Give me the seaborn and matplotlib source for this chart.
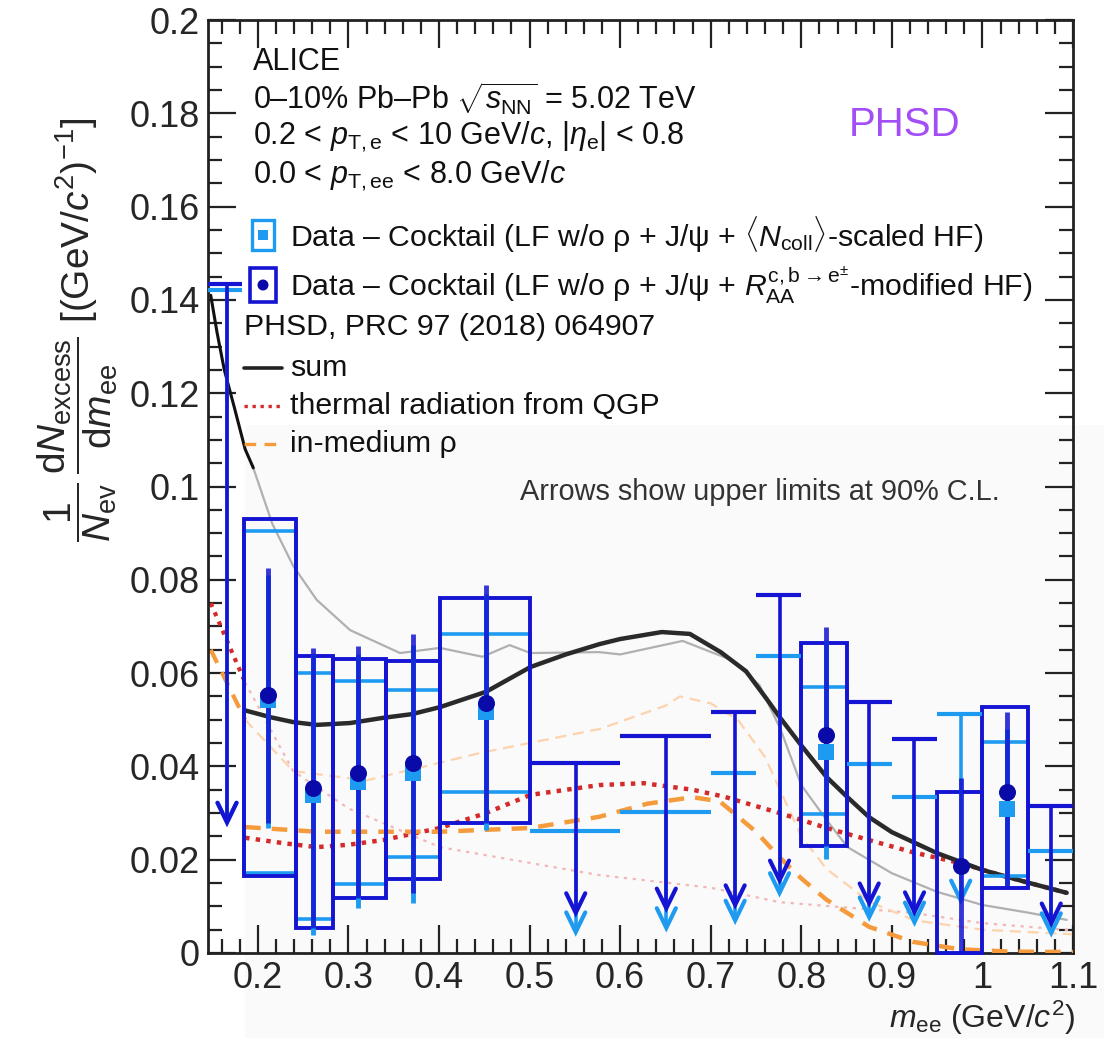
import numpy as np
import pandas as pd
import matplotlib
matplotlib.use("Agg")
import matplotlib.pyplot as plt
import seaborn as sns
from matplotlib.patches import Rectangle, Ellipse
from matplotlib import font_manager as fm
from matplotlib.ticker import MultipleLocator, FixedLocator

# ---------------- data ----------------
# measured bins (x position, bin edges)
meas_x = [0.211, 0.261, 0.311, 0.371, 0.452, 0.827, 0.976, 1.027]
meas_lo = [0.185, 0.242, 0.283, 0.342, 0.401, 0.800, 0.950, 1.000]
meas_hi = [0.242, 0.283, 0.342, 0.401, 0.501, 0.850, 1.000, 1.050]

# R_AA-modified HF (dark blue)
raa_y = [0.0553, 0.0354, 0.0386, 0.0407, 0.0536, 0.0467, 0.0187, 0.0345]
raa_stat_lo = [0.0279, 0.0054, 0.0118, 0.0129, 0.0279, 0.0229, 0.0, 0.0140]
raa_stat_hi = [0.0825, 0.0654, 0.0658, 0.0684, 0.0789, 0.0699, 0.0375, 0.0517]
raa_sys_lo = [0.0165, 0.0054, 0.0118, 0.0159, 0.0279, 0.0229, 0.0, 0.0139]
raa_sys_hi = [0.0930, 0.0637, 0.0630, 0.0626, 0.0761, 0.0665, 0.0345, 0.0527]

# Ncoll-scaled HF (light blue), bin 0.95-1.0 is an upper limit
ncoll_idx = [0, 1, 2, 3, 4, 5, 7]
ncoll_y = [0.0542, 0.0339, 0.0367, 0.0386, 0.0517, 0.0431, 0.0309]
ncoll_stat_lo = [0.0268, 0.0039, 0.0096, 0.0107, 0.0264, 0.0201, 0.0146]
ncoll_stat_hi = [0.0810, 0.0640, 0.0640, 0.0660, 0.0770, 0.0670, 0.0480]
ncoll_sys_lo = [0.0171, 0.0073, 0.0148, 0.0206, 0.0345, 0.0298, 0.0165]
ncoll_sys_hi = [0.0905, 0.0600, 0.0583, 0.0564, 0.0684, 0.0570, 0.0452]

# upper limits (90% C.L.)
ul_x = [0.166, 0.551, 0.651, 0.727, 0.776, 0.875, 0.925, 1.076]
ul_lo = [0.140, 0.501, 0.600, 0.700, 0.750, 0.850, 0.900, 1.050]
ul_hi = [0.183, 0.600, 0.700, 0.750, 0.800, 0.900, 0.950, 1.100]
ul_raa = [0.1434, 0.0407, 0.0465, 0.0517, 0.0767, 0.0538, 0.0459, 0.0315]
ul_raa_tip = [0.0280, 0.0086, 0.0096, 0.0103, 0.0156, 0.0107, 0.0088, 0.0064]
ulc_x = [0.166, 0.551, 0.651, 0.727, 0.776, 0.875, 0.925, 0.976, 1.076]
ulc_lo = [0.140, 0.501, 0.600, 0.700, 0.750, 0.850, 0.900, 0.950, 1.050]
ulc_hi = [0.183, 0.600, 0.700, 0.750, 0.800, 0.900, 0.950, 1.000, 1.100]
ul_ncoll = [0.1421, 0.0261, 0.0302, 0.0386, 0.0637, 0.0405, 0.0334, 0.0512, 0.0219]
ul_ncoll_tip = [0.0280, 0.0045, 0.0054, 0.0070, 0.0129, 0.0077, 0.0066, 0.0113, 0.0043]

# PHSD curves
sum_x = [0.186, 0.215, 0.239, 0.265, 0.302, 0.338, 0.370, 0.401, 0.452, 0.501, 0.540, 0.577,
         0.600, 0.646, 0.677, 0.711, 0.739, 0.762, 0.776, 0.800, 0.828, 0.851, 0.875, 0.900,
         0.950, 1.000, 1.052, 1.093]
sum_y = [0.0520, 0.0505, 0.0495, 0.0489, 0.0493, 0.0504, 0.0512, 0.0527, 0.0560, 0.0613, 0.0640,
         0.0662, 0.0673, 0.0688, 0.0684, 0.0645, 0.0604, 0.0544, 0.0506, 0.0445, 0.0377, 0.0334,
         0.0291, 0.0259, 0.0214, 0.0178, 0.0150, 0.0129]
qgp_x = [0.186, 0.230, 0.265, 0.300, 0.338, 0.401, 0.452, 0.501, 0.577, 0.626, 0.680, 0.715,
         0.776, 0.828, 0.875, 0.923, 0.975, 1.027, 1.093]
qgp_y = [0.0247, 0.0235, 0.0227, 0.0232, 0.0242, 0.0268, 0.0300, 0.0339, 0.0360, 0.0364, 0.0350,
         0.0335, 0.0300, 0.0268, 0.0242, 0.0216, 0.0193, 0.0163, 0.0129]
rho_x = [0.186, 0.265, 0.338, 0.401, 0.501, 0.577, 0.630, 0.680, 0.710, 0.750, 0.776, 0.800,
         0.828, 0.875, 0.923, 0.975, 1.030, 1.100]
rho_y = [0.0270, 0.0260, 0.0260, 0.0260, 0.0268, 0.0292, 0.0320, 0.0334, 0.0325, 0.0260, 0.0205,
         0.0160, 0.0114, 0.0056, 0.0024, 0.0008, 0.0003, 0.0002]

# curves from the companion figure (left edge and faint lines)
top_x = [0.148, 0.155, 0.163, 0.174, 0.186, 0.195]
top_y = [0.1410, 0.1330, 0.1250, 0.1170, 0.1080, 0.1040]
grey_x = [0.195, 0.216, 0.239, 0.265, 0.302, 0.357, 0.401, 0.448, 0.478, 0.501, 0.577, 0.600,
          0.669, 0.723, 0.754, 0.777, 0.800, 0.828, 0.851, 0.900, 0.950, 1.000, 1.052, 1.093]
grey_y = [0.1040, 0.0920, 0.0830, 0.0757, 0.0692, 0.0643, 0.0654, 0.0635, 0.0660, 0.0643, 0.0645,
          0.0640, 0.0669, 0.0628, 0.0574, 0.0480, 0.0360, 0.0285, 0.0227, 0.0171, 0.0131, 0.0103,
          0.0086, 0.0071]
qgp_left_x = [0.148, 0.186]
qgp_left_y = [0.0750, 0.0580]
rho_left_x = [0.148, 0.186]
rho_left_y = [0.0650, 0.0500]
qgp_faint_x = [0.186, 0.239, 0.300, 0.401, 0.577, 0.700, 0.776, 0.923, 1.000, 1.096]
qgp_faint_y = [0.0580, 0.0390, 0.0310, 0.0227, 0.0167, 0.0140, 0.0109, 0.0086, 0.0064, 0.0049]
rho_faint_x = [0.186, 0.239, 0.320, 0.448, 0.577, 0.650, 0.666, 0.700, 0.730, 0.760, 0.800,
               0.828, 0.875, 0.925, 1.000, 1.100]
rho_faint_y = [0.0500, 0.0390, 0.0370, 0.0430, 0.0480, 0.0530, 0.0550, 0.0535, 0.0500, 0.0420,
               0.0250, 0.0180, 0.0110, 0.0070, 0.0050, 0.0040]

ytick_vals = [0, 0.02, 0.04, 0.06, 0.08, 0.1, 0.12, 0.14, 0.16, 0.18, 0.2]
ytick_labels = ["0", "0.02", "0.04", "0.06", "0.08", "0.1", "0.12", "0.14", "0.16", "0.18", "0.2"]
xtick_vals = [0.2, 0.3, 0.4, 0.5, 0.6, 0.7, 0.8, 0.9, 1.0, 1.1]
xtick_labels = ["0.2", "0.3", "0.4", "0.5", "0.6", "0.7", "0.8", "0.9", "1", "1.1"]

# ---------------- style ----------------
sns.set_theme(style="ticks")
names = {f.name for f in fm.fontManager.ttflist}
base = "Liberation Sans" if "Liberation Sans" in names else "DejaVu Sans"
narrow = "Liberation Sans Narrow" if "Liberation Sans Narrow" in names else base
plt.rcParams["font.family"] = [base, "DejaVu Sans"]
plt.rcParams["mathtext.fontset"] = "custom"
plt.rcParams["mathtext.rm"] = base
plt.rcParams["mathtext.it"] = base + ":italic"
plt.rcParams["mathtext.bf"] = base + ":bold"
leg_fs = 23 if narrow != base else 21.8

DARK = "#1414d2"
LIGHT = "#1e9bf0"
MARK = "#0a0aa8"

W, H = 1104, 1038
fig = plt.figure(figsize=(W / 100, H / 100), dpi=100)
fig.patch.set_facecolor("white")
fx = lambda px: px / W
fy = lambda py: 1 - py / H

# composite panel background
fig.patches.append(Rectangle((fx(245), 0), 1 - fx(245), fy(425), transform=fig.transFigure,
                             facecolor="#fafafa", edgecolor="none", zorder=-10))

ax = fig.add_axes([fx(208), fy(953), (1073 - 208) / W, (953 - 20) / H])
ax.set_facecolor("none")
ax.set_xlim(0.145, 1.1)
ax.set_ylim(0, 0.2)

# ---------------- curves ----------------
def line(x, y, **kw):
    sns.lineplot(x=x, y=y, ax=ax, sort=False, estimator=None, legend=False, **kw)

line(qgp_faint_x, qgp_faint_y, color="#f2b8b8", lw=1.6, linestyle=(0, (1.5, 2.5)), zorder=1)
line(rho_faint_x, rho_faint_y, color="#fcd3ad", lw=1.6, linestyle=(0, (5, 3)), zorder=1)
line(grey_x, grey_y, color="#b0b0b0", lw=1.6, zorder=1)
line(top_x, top_y, color="#111111", lw=2.2, zorder=2)
line(qgp_left_x, qgp_left_y, color="#d42a2a", lw=3, linestyle=(0, (1, 1.4)), zorder=2)
line(rho_left_x, rho_left_y, color="#f59b3c", lw=3, linestyle=(0, (3.5, 2.5)), zorder=2)
line(qgp_x, qgp_y, color="#d42a2a", lw=3.2, linestyle=(0, (1, 1.4)), zorder=3)
line(rho_x, rho_y, color="#f59b3c", lw=3.2, linestyle=(0, (3.5, 2.5)), zorder=3)
line(sum_x, sum_y, color="#2a2a2a", lw=3.2, zorder=3)

# ---------------- systematic boxes ----------------
for k, i in enumerate(ncoll_idx):
    ax.add_patch(Rectangle((meas_lo[i], ncoll_sys_lo[k]), meas_hi[i] - meas_lo[i],
                           ncoll_sys_hi[k] - ncoll_sys_lo[k], fill=False,
                           edgecolor=LIGHT, lw=2.6, zorder=4))
for i in range(len(meas_x)):
    ax.add_patch(Rectangle((meas_lo[i], raa_sys_lo[i]), meas_hi[i] - meas_lo[i],
                           raa_sys_hi[i] - raa_sys_lo[i], fill=False,
                           edgecolor=DARK, lw=2.8, zorder=5, clip_on=False))

# ---------------- statistical errors ----------------
for k, i in enumerate(ncoll_idx):
    ax.vlines(meas_x[i], ncoll_stat_lo[k], ncoll_stat_hi[k], color=LIGHT, lw=3.5, zorder=6)
ax.vlines(meas_x, raa_stat_lo, raa_stat_hi, color=DARK, lw=3.5, zorder=7, alpha=0.85)

# ---------------- upper limits ----------------
def chevron(x, tip, color, z):
    dx, dy = 0.0105, 0.0042
    ax.plot([x - dx, x, x + dx], [tip + dy, tip, tip + dy], color=color, lw=3.0,
            solid_capstyle="round", solid_joinstyle="miter", zorder=z)

for x, lo, hi, u, t in zip(ulc_x, ulc_lo, ulc_hi, ul_ncoll, ul_ncoll_tip):
    ax.hlines(u, lo, hi, color=LIGHT, lw=3.0, zorder=6)
    ax.vlines(x, t, u, color=LIGHT, lw=2.6, zorder=6)
    chevron(x, t, LIGHT, 6)
for x, lo, hi, u, t in zip(ul_x, ul_lo, ul_hi, ul_raa, ul_raa_tip):
    ax.hlines(u, lo, hi, color=DARK, lw=3.0, zorder=7)
    ax.vlines(x, t, u, color=DARK, lw=2.6, zorder=7)
    chevron(x, t, DARK, 7)

# ---------------- markers ----------------
dfl = pd.DataFrame({"x": [meas_x[i] for i in ncoll_idx], "y": ncoll_y})
dfd = pd.DataFrame({"x": meas_x, "y": raa_y})
sns.scatterplot(data=dfl, x="x", y="y", ax=ax, marker="s", s=130, color=LIGHT,
                edgecolor=LIGHT, linewidth=0, zorder=8, legend=False)
sns.scatterplot(data=dfd, x="x", y="y", ax=ax, marker="o", s=150, color=MARK,
                edgecolor=MARK, linewidth=0, zorder=9, legend=False)

# ---------------- axes ----------------
ax.set_xlabel("")
ax.set_ylabel("")
ax.yaxis.set_major_locator(FixedLocator(ytick_vals))
ax.set_yticklabels(ytick_labels)
ax.yaxis.set_minor_locator(MultipleLocator(0.005))
ax.xaxis.set_major_locator(FixedLocator(xtick_vals))
ax.set_xticklabels(xtick_labels)
ax.xaxis.set_minor_locator(MultipleLocator(0.02))
ax.tick_params(which="both", direction="in", top=True, right=True, width=1.6, color="#222222")
ax.tick_params(which="major", length=20, labelsize=26, pad=6)
ax.tick_params(which="minor", length=10)
for s in ax.spines.values():
    s.set_linewidth(2.0)
    s.set_color("#222222")
    s.set_visible(True)

fig.text(fx(78), fy(330),
         r"$\dfrac{1}{N_{\rm ev}}\,\dfrac{{\rm d}N_{\rm excess}}{{\rm d}m_{\rm ee}}$ [(GeV/$c^{2}$)$^{-1}$]",
         rotation=90, ha="center", va="center", fontsize=28)
fig.text(fx(1075), fy(1018), r"$m_{\rm ee}$ (GeV/$c^{2}$)", ha="right", va="center", fontsize=23)

# ---------------- annotation text ----------------
tk = dict(ha="left", va="center", fontsize=22, color="#111111")
fig.text(fx(253), fy(62), "ALICE", **tk)
fig.text(fx(253), fy(99), r"0–10% Pb–Pb $\sqrt{s_{\rm NN}}$ = 5.02 TeV", **tk)
fig.text(fx(253), fy(137), r"0.2 < $p_{\rm T,e}$ < 10 GeV/$c$, |$\eta_{\rm e}$| < 0.8", **tk)
fig.text(fx(253), fy(176), r"0.0 < $p_{\rm T,ee}$ < 8.0 GeV/$c$", **tk)

tl = dict(ha="left", va="center", fontsize=leg_fs, color="#111111", family=[narrow, "DejaVu Sans"])
fig.text(fx(290), fy(235), r"Data – Cocktail (LF w/o ρ + J/ψ + $\langle N_{\rm coll}\rangle$-scaled HF)", **tl)
fig.text(fx(290), fy(285), r"Data – Cocktail (LF w/o ρ + J/ψ + $R_{\rm AA}^{\rm c,b\rightarrow e^{\pm}}$-modified HF)", **tl)
fig.text(fx(244), fy(327), "PHSD, PRC 97 (2018) 064907", **tl)
fig.text(fx(290), fy(368), "sum", **tl)
fig.text(fx(290), fy(406), "thermal radiation from QGP", **tl)
fig.text(fx(290), fy(444), "in-medium ρ", **tl)
fig.text(fx(520), fy(492), "Arrows show upper limits at 90% C.L.", ha="left", va="center",
         fontsize=leg_fs - 1, color="#333333", family=[narrow, "DejaVu Sans"])
fig.text(fx(905), fy(125), "PHSD", ha="center", va="center", fontsize=29, color="#a24df5")

# legend symbols
fig.patches.append(Rectangle((fx(252), fy(250)), 22 / W, 30 / H, transform=fig.transFigure,
                             fill=False, edgecolor=LIGHT, lw=2.4))
fig.patches.append(Rectangle((fx(258), fy(240)), 10 / W, 10 / H, transform=fig.transFigure,
                             facecolor=LIGHT, edgecolor="none"))
fig.patches.append(Rectangle((fx(250), fy(302)), 26 / W, 34 / H, transform=fig.transFigure,
                             fill=False, edgecolor=DARK, lw=2.6))
fig.patches.append(Ellipse((fx(263), fy(285)), 11 / W, 11 / H, transform=fig.transFigure,
                           facecolor=MARK, edgecolor="none"))
fig.lines.append(plt.Line2D([fx(244), fx(282)], [fy(368), fy(368)], transform=fig.transFigure,
                            color="#222222", lw=2.6))
fig.lines.append(plt.Line2D([fx(244), fx(282)], [fy(406), fy(406)], transform=fig.transFigure,
                            color="#d42a2a", lw=2.4, linestyle=(0, (1, 1.4))))
fig.lines.append(plt.Line2D([fx(244), fx(282)], [fy(444), fy(444)], transform=fig.transFigure,
                            color="#f59b3c", lw=2.4, linestyle=(0, (3.5, 2.5))))

fig.savefig("out.png", dpi=100)
